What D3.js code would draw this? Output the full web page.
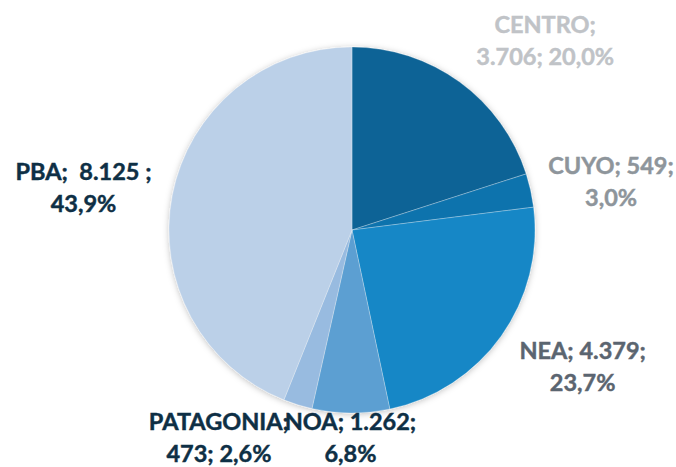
<!DOCTYPE html>
<html>
<head>
<meta charset="utf-8">
<script src="https://cdn.jsdelivr.net/npm/d3@7"></script>
<style>
  body { margin: 0; background: #fff; }
  .lbl { font-family: Lato, "Open Sans", sans-serif; font-weight: bold; font-size: 23.5px; white-space: pre; stroke-width: 0.45px; }
</style>
</head>
<body>
<svg width="676" height="467"></svg>
<script>
const width = 676, height = 467;

// data
const regions = ["CENTRO", "CUYO", "NEA", "NOA", "PATAGONIA", "PBA"];
const values = [3706, 549, 4379, 1262, 473, 8125];
const colors = ["#0f6496", "#1173ad", "#1587c6", "#5b9fd2", "#98bbe0", "#bbd0e8"];
const labelColors = ["#c0c3c7", "#8e959b", "#5b6570", "#0e2f45", "#0e2f45", "#0e2f45"];
// how many parts go on the first label line
const firstLineParts = [1, 2, 2, 2, 1, 2];
// the PBA label in the source has extra blanks
const nameSep = [" ", " ", " ", " ", " ", "  "];
const valueSep = [";", ";", ";", ";", ";", " ;"];
// label nudge from the label arc
const nudge = [[46, 5], [15, -2], [27, -16], [0, -50], [-59, -39], [-23, -3]];

const cx = 352, cy = 230, radius = 183, labelRadius = 250;

const svg = d3.select("svg");

const defs = svg.append("defs");
defs.append("filter")
  .attr("id", "shadow")
  .attr("x", "-20%").attr("y", "-20%").attr("width", "140%").attr("height", "140%")
  .append("feDropShadow")
  .attr("dx", 0).attr("dy", 1).attr("stdDeviation", 3)
  .attr("flood-color", "#000").attr("flood-opacity", 0.25);

const g = svg.append("g")
  .attr("transform", "translate(" + cx + "," + cy + ")");

const total = d3.sum(values);
const data = regions.map((r, i) => ({ label: r, value: values[i], i: i }));

const pie = d3.pie().sort(null).value(d => d.value);
const arc = d3.arc().innerRadius(0).outerRadius(radius);
const labelArc = d3.arc().innerRadius(labelRadius).outerRadius(labelRadius);

const arcs = pie(data);

const pieG = g.append("g").attr("filter", "url(#shadow)");
pieG.selectAll("path")
  .data(arcs)
  .enter().append("path")
  .attr("d", arc)
  .attr("fill", d => colors[d.data.i])
  .attr("stroke", "rgba(255,255,255,0.45)")
  .attr("stroke-width", 0.6);

const numFmt = d3.formatLocale({ decimal: ",", thousands: ".", grouping: [3], currency: ["", ""] });
const fmtVal = numFmt.format(",d");
const fmtPct = numFmt.format(".1%");

const labels = g.selectAll(".lbl")
  .data(arcs)
  .enter().append("text")
  .attr("class", "lbl")
  .attr("text-anchor", "middle")
  .attr("fill", d => labelColors[d.data.i])
  .attr("stroke", d => labelColors[d.data.i])
  .attr("transform", d => {
    const c = labelArc.centroid(d);
    const n = nudge[d.data.i];
    return "translate(" + (c[0] + n[0]) + "," + (c[1] + n[1]) + ")";
  });

labels.each(function(d) {
  const i = d.data.i;
  const parts = [d.data.label + ";", fmtVal(d.data.value) + valueSep[i], fmtPct(d.data.value / total)];
  const k = firstLineParts[i];
  const lines = k === 1
    ? [parts[0], parts[1] + " " + parts[2]]
    : [parts[0] + nameSep[i] + parts[1], parts[2]];
  d3.select(this).selectAll("tspan")
    .data(lines)
    .enter().append("tspan")
    .attr("x", 0)
    .attr("dy", (t, j) => j === 0 ? 0 : 32)
    .text(t => t);
});
</script>
</body>
</html>
